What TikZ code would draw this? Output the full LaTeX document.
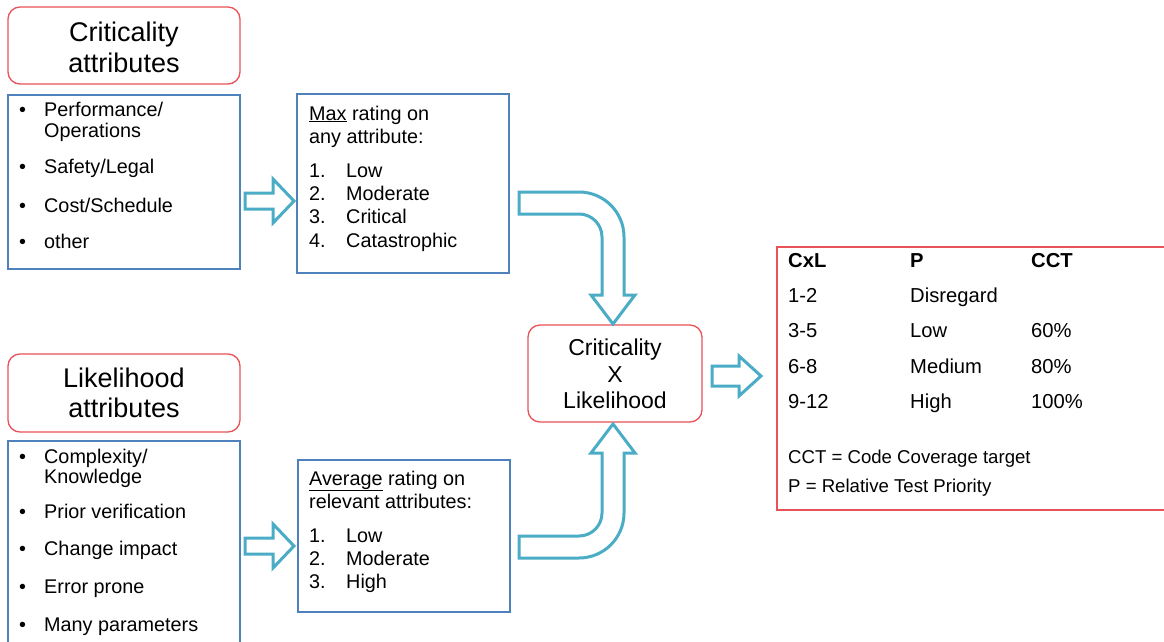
\documentclass[tikz,border=0pt]{standalone}
\usepackage{fontspec}
\setmainfont{Liberation Sans}
\definecolor{redb}{RGB}{232,82,88}
\definecolor{blueb}{RGB}{79,129,189}
\definecolor{tealb}{RGB}{75,172,198}
\newcommand\ftitle{\fontsize{27}{30}\selectfont}
\newcommand\fbody{\fontsize{19.8}{23}\selectfont}
\newcommand\fcenter{\fontsize{23}{26}\selectfont}
\newcommand\ftab{\fontsize{20.2}{24}\selectfont}
\newcommand\fnote{\fontsize{18.6}{22}\selectfont}
\begin{document}
\begin{tikzpicture}[x=1pt,y=-1pt,
  redbox/.style={draw=redb, line width=1.3pt, rounded corners=12pt, fill=white, inner sep=0pt},
  bluebox/.style={draw=blueb, line width=1.2pt, inner sep=0pt},
  hollow/.style={draw=tealb, line width=3pt, line join=miter, fill=white},
  tt/.style={anchor=base, inner sep=0pt, font=\ftitle},
  ct/.style={anchor=base, inner sep=0pt, font=\fcenter},
  bl/.style={anchor=base west, inner sep=0pt, font=\fbody},
  tb/.style={anchor=base west, inner sep=0pt, font=\ftab},
  nt/.style={anchor=base west, inner sep=0pt, font=\fnote}]
\useasboundingbox (0,0) rectangle (1164,642);
\clip (0,0) rectangle (1164,642);

% boxes
\node[redbox, minimum width=232pt, minimum height=77pt] (crittitle) at (124,45.5) {};
\node[bluebox, minimum width=232pt, minimum height=174pt] (critlist) at (124,182) {};
\node[bluebox, minimum width=212pt, minimum height=179pt] (maxbox) at (403,183.5) {};
\node[redbox, minimum width=174pt, minimum height=97pt] (cxl) at (615,373.5) {};
\node[draw=redb, line width=1.3pt, inner sep=0pt, minimum width=398pt, minimum height=263pt] (table) at (976,378.5) {};
\node[redbox, minimum width=232pt, minimum height=78pt] (liktitle) at (124,393) {};
\node[bluebox, minimum width=232pt, minimum height=219pt] (liklist) at (124,550.5) {};
\node[bluebox, minimum width=212pt, minimum height=152pt] (avgbox) at (404,536) {};

% titles
\node[tt] (ct1) at (124,42) {Criticality};
\node[tt] (ct2) at (124,72) {attributes};
\node[tt] (lt1) at (124,387) {Likelihood};
\node[tt] (lt2) at (124,417) {attributes};

% criticality list
\node[bl] (cb1) at (19,116) {•};
\node[bl] (ci1) at (44,116) {Performance/};
\node[bl] (ci1b) at (44,137) {Operations};
\node[bl] (cb2) at (19,173) {•};
\node[bl] (ci2) at (44,173) {Safety/Legal};
\node[bl] (cb3) at (19,212) {•};
\node[bl] (ci3) at (44,212) {Cost/Schedule};
\node[bl] (cb4) at (19,248) {•};
\node[bl] (ci4) at (44,248) {other};

% likelihood list
\node[bl] (lb1) at (19,463) {•};
\node[bl] (li1) at (44,463) {Complexity/};
\node[bl] (li1b) at (44,483) {Knowledge};
\node[bl] (lb2) at (19,518) {•};
\node[bl] (li2) at (44,518) {Prior verification};
\node[bl] (lb3) at (19,555) {•};
\node[bl] (li3) at (44,555) {Change impact};
\node[bl] (lb4) at (19,593) {•};
\node[bl] (li4) at (44,593) {Error prone};
\node[bl] (lb5) at (19,631) {•};
\node[bl] (li5) at (44,631) {Many parameters};

% max box
\node[bl] (m0) at (309,120) {\underline{Max} rating on};
\node[bl] (m0b) at (309,143) {any attribute:};
\node[bl] (mn1) at (309,177) {1.};
\node[bl] (mt1) at (346,177) {Low};
\node[bl] (mn2) at (309,200) {2.};
\node[bl] (mt2) at (346,200) {Moderate};
\node[bl] (mn3) at (309,223) {3.};
\node[bl] (mt3) at (346,223) {Critical};
\node[bl] (mn4) at (309,247) {4.};
\node[bl] (mt4) at (346,247) {Catastrophic};

% average box
\node[bl] (a0) at (309,485) {\underline{Average} rating on};
\node[bl] (a0b) at (309,508) {relevant attributes:};
\node[bl] (an1) at (309,542) {1.};
\node[bl] (at1) at (346,542) {Low};
\node[bl] (an2) at (309,565) {2.};
\node[bl] (at2) at (346,565) {Moderate};
\node[bl] (an3) at (309,588) {3.};
\node[bl] (at3) at (346,588) {High};

% centre
\node[ct] (c1) at (615,355) {Criticality};
\node[ct] (c2) at (615,382) {X};
\node[ct] (c3) at (615,408) {Likelihood};

% table
\node[tb] (h1) at (788,267) {\bfseries CxL};
\node[tb] (h2) at (910,267) {\bfseries P};
\node[tb] (h3) at (1031,267) {\bfseries CCT};
\node[tb] (r1a) at (788,302) {1-2};
\node[tb] (r1b) at (910,302) {Disregard};
\node[tb] (r2a) at (788,337) {3-5};
\node[tb] (r2b) at (910,337) {Low};
\node[tb] (r2c) at (1031,337) {60\%};
\node[tb] (r3a) at (788,373) {6-8};
\node[tb] (r3b) at (910,373) {Medium};
\node[tb] (r3c) at (1031,373) {80\%};
\node[tb] (r4a) at (788,408) {9-12};
\node[tb] (r4b) at (910,408) {High};
\node[tb] (r4c) at (1031,408) {100\%};
\node[nt] (n1) at (788,463) {CCT = Code Coverage target};
\node[nt] (n2) at (788,492) {P = Relative Test Priority};

% hollow arrows
\draw[hollow] (245,193) -- (273,193) -- (273,179) -- (294,201) -- (273,223) -- (273,209) -- (245,209) -- cycle;
\draw[hollow] (245,538) -- (273,538) -- (273,524) -- (294,546) -- (273,568) -- (273,554) -- (245,554) -- cycle;
\draw[hollow] (712,366) -- (739,366) -- (739,356) -- (761,376) -- (739,396) -- (739,386) -- (712,386) -- cycle;

% curved arrows
\draw[hollow] (519,192) -- (579,192) arc[start angle=-90,end angle=0,radius=45] -- (624,295) -- (635,295) -- (613,324) -- (591,295) -- (602,295) -- (602,237) arc[start angle=0,end angle=-90,radius=23] -- (519,214) -- cycle;
\draw[hollow] (519,558) -- (579,558) arc[start angle=90,end angle=0,radius=45] -- (624,453) -- (635,453) -- (613,424) -- (591,453) -- (602,453) -- (602,513) arc[start angle=0,end angle=90,radius=23] -- (519,536) -- cycle;
\end{tikzpicture}
\end{document}
